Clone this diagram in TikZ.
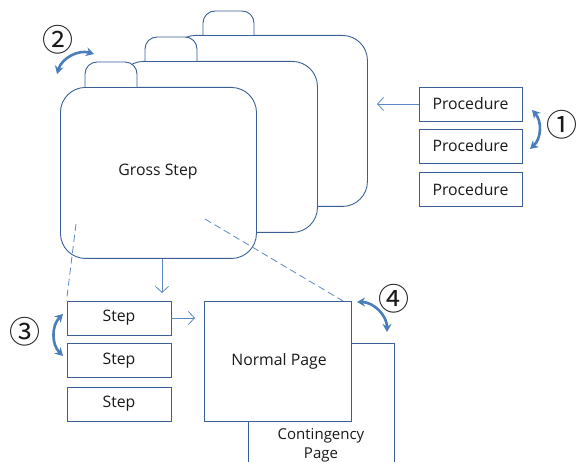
\documentclass[tikz,border=0pt]{standalone}
\usepackage{fontspec}
\setmainfont{Open Sans}
\newfontfamily\circfont{Noto Sans CJK JP}
\usetikzlibrary{arrows.meta}
\definecolor{edge}{HTML}{3A5F95}
\definecolor{thin}{HTML}{5B87C5}
\definecolor{thick}{HTML}{4A7EBB}
\definecolor{txt}{HTML}{1A1A1A}
\tikzset{
  card/.style={draw=edge, fill=white, line width=0.9pt, rounded corners=25pt, anchor=north west, inner sep=0pt},
  tabshape/.style={draw=edge, fill=white, line width=0.9pt, rounded corners=12pt},
  box/.style={draw=edge, fill=white, line width=0.9pt, inner sep=0pt, text=txt, font=\fontsize{15.8}{18}\selectfont},
  lbl/.style={text=txt, font=\fontsize{15.8}{18}\selectfont, align=center, inner sep=0pt},
  thinarrow/.style={draw=thin, line width=0.8pt, -{Straight Barb[length=6pt,width=13pt]}},
  dashline/.style={draw=thin, line width=0.8pt, dash pattern=on 7pt off 4pt},
  swap/.style={draw=thick, line width=2.6pt, {Stealth[length=8pt,width=9pt]}-{Stealth[length=8pt,width=9pt]}},
  circ/.style={font=\circfont\fontsize{31}{31}\selectfont, text=txt, inner sep=0pt}
}
\begin{document}
\begin{tikzpicture}[x=1pt,y=-1pt]
\useasboundingbox (0,0) rectangle (579,462);
\clip (0,0) rectangle (579,462);
% cards (back to front)
\node[card, minimum width=197pt, minimum height=171pt] (back) at (170,35) {};
\draw[tabshape] (203,35) -- (203,11) -- (254,11) -- (254,35);
\node[card, minimum width=199pt, minimum height=171pt] (mid) at (118,61) {};
\draw[tabshape] (145,61) -- (145,37) -- (197,37) -- (197,61);
\node[card, minimum width=196pt, minimum height=171pt] (front) at (60,87) {};
\draw[tabshape] (85,87) -- (85,62) -- (137,62) -- (137,87);
\node[lbl] (gross) at (158,172) {Gross Step};
% procedures
\node[box, minimum width=103pt, minimum height=34pt] (p1) at (470.5,104) {Procedure};
\node[box, minimum width=103pt, minimum height=34pt] (p2) at (470.5,146) {Procedure};
\node[box, minimum width=103pt, minimum height=34pt] (p3) at (470.5,189.5) {Procedure};
% steps
\node[box, minimum width=104pt, minimum height=34pt] (s1) at (119,318) {Step};
\node[box, minimum width=104pt, minimum height=34pt] (s2) at (119,360.5) {Step};
\node[box, minimum width=104pt, minimum height=34pt] (s3) at (119,404) {Step};
% pages
\node[box, anchor=north west, minimum width=146pt, minimum height=140pt] (cont) at (248,343) {};
\node[box, anchor=north west, minimum width=147pt, minimum height=120pt] (normal) at (204,301) {};
\node[lbl] (normaltxt) at (279,361) {Normal Page};
\node[lbl, font=\fontsize{15}{19}\selectfont] (conttxt) at (321,445) {Contingency\\Page};
% connectors
\coordinate (pin) at (377,104);
\draw[thinarrow] (p1.west) -- (pin);
\coordinate (sdown) at (162,293);
\draw[thinarrow] (front.south -| sdown) -- (sdown);
\coordinate (sright) at (195,318);
\draw[thinarrow] (s1.east) -- (sright);
\coordinate (d1) at (76,224);
\draw[dashline] (d1) -- (s1.north west);
\coordinate (d2) at (205,219);
\coordinate (d2end) at (343,301);
\draw[dashline] (d2) -- (d2end);
% swap arrows
\coordinate (a1) at (532,110);
\coordinate (b1) at (530,149);
\draw[swap] (a1) to[bend left=45] (b1);
\coordinate (a2) at (57,74);
\coordinate (b2) at (94,54);
\draw[swap] (a2) to[bend left=45] (b2);
\coordinate (a3) at (63,314);
\coordinate (b3) at (63,356);
\draw[swap] (a3) to[bend right=45] (b3);
\coordinate (a4) at (357,302);
\coordinate (b4) at (387,332);
\draw[swap] (a4) to[bend left=45] (b4);
% circled numbers
\node[circ] (n1) at (562,125) {①};
\node[circ] (n2) at (58,40) {②};
\node[circ] (n3) at (25,332) {③};
\node[circ] (n4) at (394,299) {④};
\end{tikzpicture}
\end{document}
